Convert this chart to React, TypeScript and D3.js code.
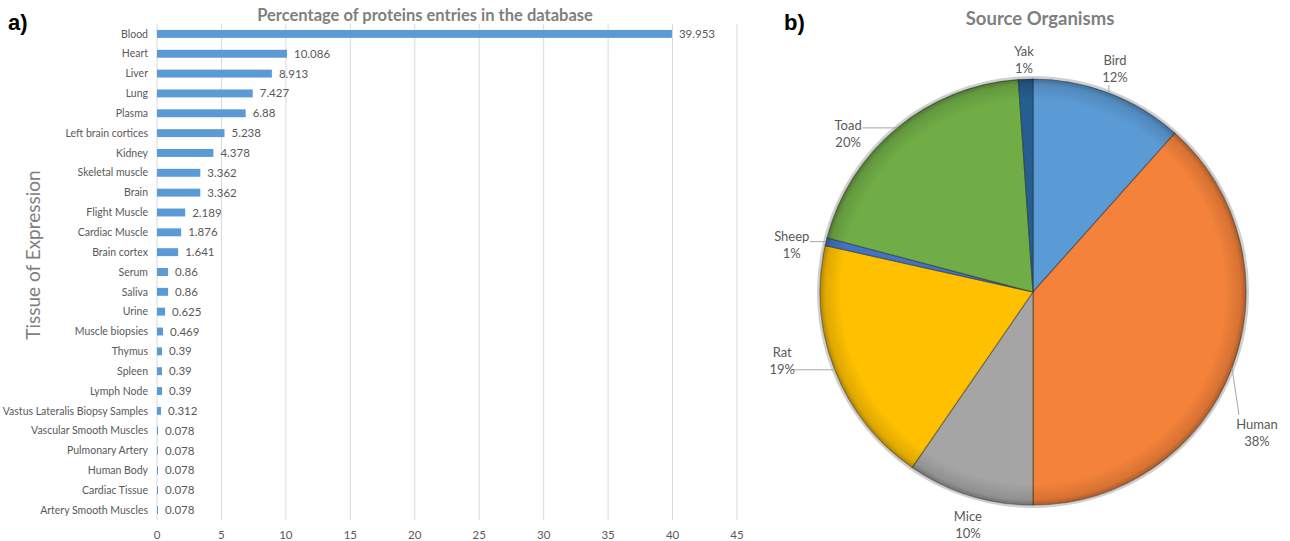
import React from "react";
import * as d3 from "d3";

// ---------- Data ----------
const tissues = [
  "Blood", "Heart", "Liver", "Lung", "Plasma", "Left brain cortices", "Kidney",
  "Skeletal muscle", "Brain", "Flight Muscle", "Cardiac Muscle", "Brain cortex",
  "Serum", "Saliva", "Urine", "Muscle biopsies", "Thymus", "Spleen", "Lymph Node",
  "Vastus Lateralis Biopsy Samples", "Vascular Smooth Muscles", "Pulmonary Artery",
  "Human Body", "Cardiac Tissue", "Artery Smooth Muscles",
];
const tissueValues = [
  39.953, 10.086, 8.913, 7.427, 6.88, 5.238, 4.378, 3.362, 3.362, 2.189, 1.876,
  1.641, 0.86, 0.86, 0.625, 0.469, 0.39, 0.39, 0.39, 0.312, 0.078, 0.078, 0.078,
  0.078, 0.078,
];
const xTicks = [0, 5, 10, 15, 20, 25, 30, 35, 40, 45];

const organisms = ["Bird", "Human", "Mice", "Rat", "Sheep", "Toad", "Yak"];
const organismValues = [11.6, 38.4, 9.6, 18.9, 0.6, 19.8, 1.1];

// ---------- Styles / layout ----------
const organismColors = ["#5B9BD5", "#F4823A", "#A5A5A5", "#FFC000", "#4472C4", "#70AD47", "#255E91"];
// label placement: polar angle (deg, clockwise from top), radius factor, leader line
const labelAngle = [20.1, 122, 195.7, 254.8, 281.3, 310.7, 357.8];
const labelRadius = [1.12, 1.24, 1.13, 1.22, 1.155, 1.145, 1.094];
const labelLeader = [true, true, false, true, true, true, false];

const FONT = "Lato, 'Liberation Sans', sans-serif";
const TEXT = "#595959";

export default function App() {
  // ----- bar chart -----
  const x = d3.scaleLinear().domain([0, 45]).range([157, 737]);
  const y = d3.scaleBand<string>().domain(tissues).range([24, 520]).paddingInner(0.6).paddingOuter(0.3);

  // ----- pie -----
  const cx = 1033, cy = 292, r = 213;
  const pie = d3.pie<number>().sort(null).startAngle(0).endAngle(2 * Math.PI)(organismValues);
  const arc = d3.arc<d3.PieArcDatum<number>>().innerRadius(0).outerRadius(r);
  const total = d3.sum(organismValues);

  const lineH = 17;

  return (
    <svg width={1290} height={541} style={{ position: "absolute", left: 0, top: 0, background: "#fff" }} fontFamily={FONT}>
      <defs>
        <radialGradient id="rim" cx="50%" cy="50%" r="50%">
          <stop offset="0.9" stopColor="#000" stopOpacity={0} />
          <stop offset="0.975" stopColor="#000" stopOpacity={0.12} />
          <stop offset="1" stopColor="#000" stopOpacity={0.3} />
        </radialGradient>
      </defs>

      {/* panel letters */}
      <text x={8} y={30} fontFamily="Arial, 'Liberation Sans', sans-serif" fontWeight="bold" fontSize={22} fill="#000">a)</text>
      <text x={784} y={30} fontFamily="Arial, 'Liberation Sans', sans-serif" fontWeight="bold" fontSize={22} fill="#000">b)</text>

      {/* bar chart title */}
      <text x={425} y={21} textAnchor="middle" fontWeight="bold" fontSize={16.5} fill="#7F7F7F">
        Percentage of proteins entries in the database
      </text>
      <text transform={`translate(40,255) rotate(-90)`} textAnchor="middle" fontSize={19} fill="#808080">
        Tissue of Expression
      </text>

      {/* gridlines */}
      {xTicks.map((t) => (
        <line key={"g" + t} x1={x(t)} x2={x(t)} y1={24} y2={520} stroke="#D9D9D9" strokeWidth={1} />
      ))}
      {xTicks.map((t) => (
        <text key={"t" + t} x={x(t)} y={539} textAnchor="middle" fontSize={11.5} fill={TEXT}>{t}</text>
      ))}

      {/* bars */}
      {tissues.map((c, i) => {
        const yy = y(c)!;
        const cyy = yy + y.bandwidth() / 2;
        return (
          <g key={c}>
            <rect x={x(0)} y={yy} width={Math.max(x(tissueValues[i]) - x(0), 0.8)} height={y.bandwidth()} fill="#5B9BD5" />
            <text x={148} y={cyy} dy="0.35em" textAnchor="end" fontSize={10.5} fill={TEXT}>{c}</text>
            <text x={x(tissueValues[i]) + 7} y={cyy} dy="0.35em" fontSize={11.5} fill={TEXT}>{tissueValues[i]}</text>
          </g>
        );
      })}

      {/* pie title */}
      <text x={1040} y={25} textAnchor="middle" fontWeight="bold" fontSize={18.5} fill="#7F7F7F">Source Organisms</text>

      <g transform={`translate(${cx},${cy})`}>
        <circle r={r + 1.5} fill="none" stroke="#D0D0D0" strokeWidth={3} />
        {pie.map((d, i) => (
          <path key={organisms[i]} d={arc(d)!} fill={organismColors[i]} stroke="rgba(40,40,40,0.45)" strokeWidth={1.2} />
        ))}
        <circle r={r} fill="url(#rim)" />
        {pie.map((d, i) => {
          const a = (labelAngle[i] * Math.PI) / 180;
          const rr = r * labelRadius[i];
          const lx = rr * Math.sin(a);
          const ly = -rr * Math.cos(a);
          const pct = Math.round((organismValues[i] / total) * 100) + "%";
          const w = Math.max(organisms[i].length, pct.length) * 7.2;
          const h = lineH * 2;
          const mid = (d.startAngle + d.endAngle) / 2;
          const ex = r * Math.sin(mid);
          const ey = -r * Math.cos(mid);
          const nx = Math.min(Math.max(ex, lx - w / 2), lx + w / 2);
          const ny = Math.min(Math.max(ey, ly - h / 2), ly + h / 2);
          return (
            <g key={"l" + i}>
              {labelLeader[i] && (
                <line x1={ex} y1={ey} x2={nx} y2={ny} stroke="#A6A6A6" strokeWidth={1} />
              )}
              <text x={lx} y={ly - 3} textAnchor="middle" fontSize={13} fill={TEXT}>{organisms[i]}</text>
              <text x={lx} y={ly + 14} textAnchor="middle" fontSize={13} fill={TEXT}>{pct}</text>
            </g>
          );
        })}
      </g>
    </svg>
  );
}
